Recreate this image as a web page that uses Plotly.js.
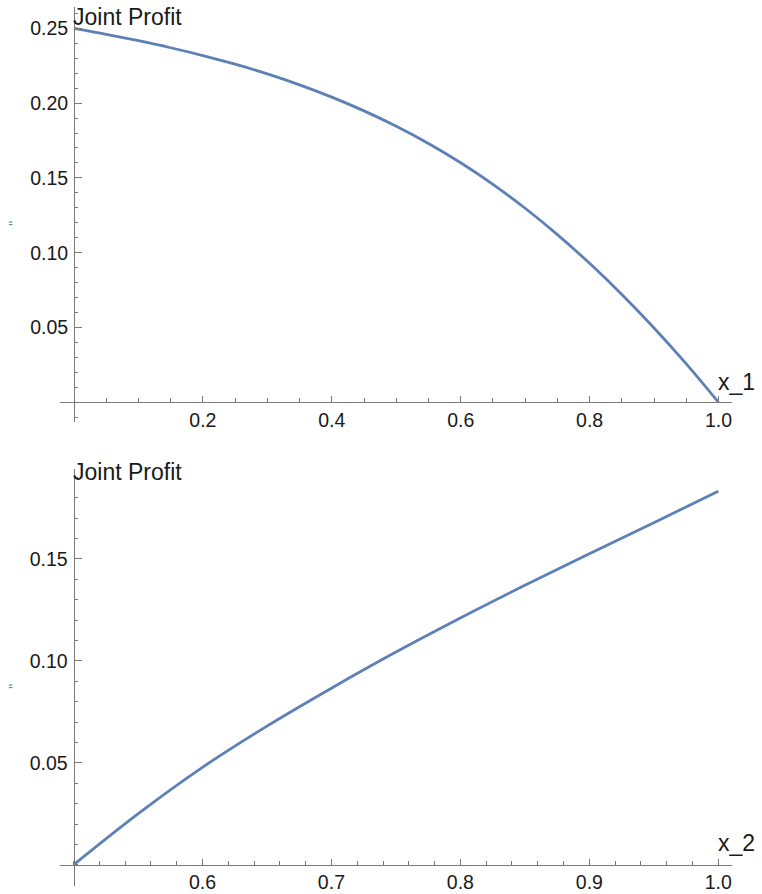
<!DOCTYPE html>
<html>
<head>
<meta charset="utf-8">
<script src="https://cdn.plot.ly/plotly-3.0.1.min.js"></script>
<style>html,body{margin:0;padding:0;background:#fff;}#chart{width:762px;height:894px;}</style>
</head>
<body>
<div id="chart"></div>
<script>
// ---- data ----
const x1Values = [0, 0.05, 0.1, 0.15, 0.2, 0.25, 0.3, 0.35, 0.4, 0.45, 0.5, 0.55, 0.6, 0.65, 0.7, 0.75, 0.8, 0.85, 0.9, 0.95, 1.0];
const profit1 = [0.2500, 0.2460, 0.2417, 0.2370, 0.2318, 0.2260, 0.2195, 0.2122, 0.2040, 0.1948, 0.1845, 0.1730, 0.1601, 0.1457, 0.1297, 0.1121, 0.0929, 0.0721, 0.0497, 0.0257, 0.0];
const x2Values = [0.5, 0.55, 0.6, 0.65, 0.7, 0.75, 0.8, 0.85, 0.9, 0.95, 1.0];
const profit2 = [0.0, 0.0250, 0.0478, 0.0680, 0.0866, 0.1043, 0.1210, 0.1370, 0.1525, 0.1677, 0.1832];

const x1Ticks = [0.2, 0.4, 0.6, 0.8, 1.0];
const x1TickText = ["0.2", "0.4", "0.6", "0.8", "1.0"];
const y1Ticks = [0.05, 0.10, 0.15, 0.20, 0.25];
const y1TickText = ["0.05", "0.10", "0.15", "0.20", "0.25"];
const x2Ticks = [0.6, 0.7, 0.8, 0.9, 1.0];
const x2TickText = ["0.6", "0.7", "0.8", "0.9", "1.0"];
const y2Ticks = [0.05, 0.10, 0.15];
const y2TickText = ["0.05", "0.10", "0.15"];

const yLabel = "Joint Profit";
const x1Label = "x_1";
const x2Label = "x_2";

// ---- layout helpers ----
const W = 762, H = 894;
const lineColor = "#5E81B5";
const axisColor = "#7a7a7a";
const tickFont = {family: "Liberation Sans, Arial, sans-serif", size: 19.5, color: "#1a1a1a"};
const labelFont = {family: "Liberation Sans, Arial, sans-serif", size: 23, color: "#1a1a1a"};

function px(p) { return p / W; }
function py(p) { return 1 - p / H; }

const panelTop = {xd: [px(60), px(731.7)], xr: [-0.02172, 1.02048], yd: [py(421.7), py(7)], yr: [-0.01297, 0.26424], x0: 0, y0: 0};
const panelBot = {xd: [px(60), px(731.7)], xr: [0.48953, 1.01039], yd: [py(885.5), py(469.3)], yr: [-0.01015, 0.19391], x0: 0.5, y0: 0};

function posOf(val, r, d) { return d[0] + (val - r[0]) / (r[1] - r[0]) * (d[1] - d[0]); }

function xAxis(cfg, tv, tt, minorD) {
  return {
    domain: cfg.xd, range: cfg.xr, anchor: "free", position: posOf(cfg.y0, cfg.yr, cfg.yd),
    showline: true, linecolor: axisColor, linewidth: 1,
    ticks: "inside", ticklen: 6, tickwidth: 1, tickcolor: axisColor,
    tickmode: "array", tickvals: tv, ticktext: tt, tickfont: tickFont,
    showgrid: false, zeroline: false, fixedrange: true,
    minor: {tickmode: "linear", tick0: 0, dtick: minorD, ticks: "inside", ticklen: 4, tickcolor: axisColor, showgrid: false}
  };
}
function yAxis(cfg, tv, tt, minorD) {
  return {
    domain: cfg.yd, range: cfg.yr, anchor: "free", position: posOf(cfg.x0, cfg.xr, cfg.xd),
    showline: true, linecolor: axisColor, linewidth: 1,
    ticks: "inside", ticklen: 7, tickwidth: 1, tickcolor: axisColor,
    tickmode: "array", tickvals: tv, ticktext: tt, tickfont: tickFont, ticklabelstandoff: 2,
    showgrid: false, zeroline: false, fixedrange: true,
    minor: {tickmode: "linear", tick0: 0, dtick: minorD, ticks: "inside", ticklen: 3.5, tickcolor: axisColor, showgrid: false}
  };
}

const traces = [
  {x: x1Values, y: profit1, xaxis: "x", yaxis: "y", mode: "lines", line: {color: lineColor, width: 2.8, shape: "spline", smoothing: 1}, hoverinfo: "none"},
  {x: x2Values, y: profit2, xaxis: "x2", yaxis: "y2", mode: "lines", line: {color: lineColor, width: 2.8, shape: "spline", smoothing: 1}, hoverinfo: "none"}
];

function ann(text, xp, yp, font, extra) {
  return Object.assign({text: text, xref: "paper", yref: "paper", x: px(xp), y: py(yp), xanchor: "left", yanchor: "middle", showarrow: false, font: font, borderpad: 0}, extra || {});
}

const quoteFont = {family: "Liberation Sans, Arial, sans-serif", size: 14, color: lineColor};

const layout = {
  width: W, height: H,
  margin: {l: 0, r: 0, t: 0, b: 0, pad: 0},
  paper_bgcolor: "#ffffff", plot_bgcolor: "#ffffff",
  showlegend: false,
  xaxis: xAxis(panelTop, x1Ticks, x1TickText, 0.05),
  yaxis: yAxis(panelTop, y1Ticks, y1TickText, 0.01),
  xaxis2: xAxis(panelBot, x2Ticks, x2TickText, 0.02),
  yaxis2: yAxis(panelBot, y2Ticks, y2TickText, 0.01),
  annotations: [
    ann(yLabel, 72, 17, labelFont),
    ann(x1Label, 717, 382, labelFont),
    ann(yLabel, 72, 472, labelFont),
    ann(x2Label, 717, 842.5, labelFont),
    ann('"', 13.7, 223, quoteFont, {xanchor: "center", textangle: -90}),
    ann('"', 13.7, 686, quoteFont, {xanchor: "center", textangle: -90})
  ]
};

Plotly.newPlot("chart", traces, layout, {displayModeBar: false, staticPlot: true});
</script>
</body>
</html>
